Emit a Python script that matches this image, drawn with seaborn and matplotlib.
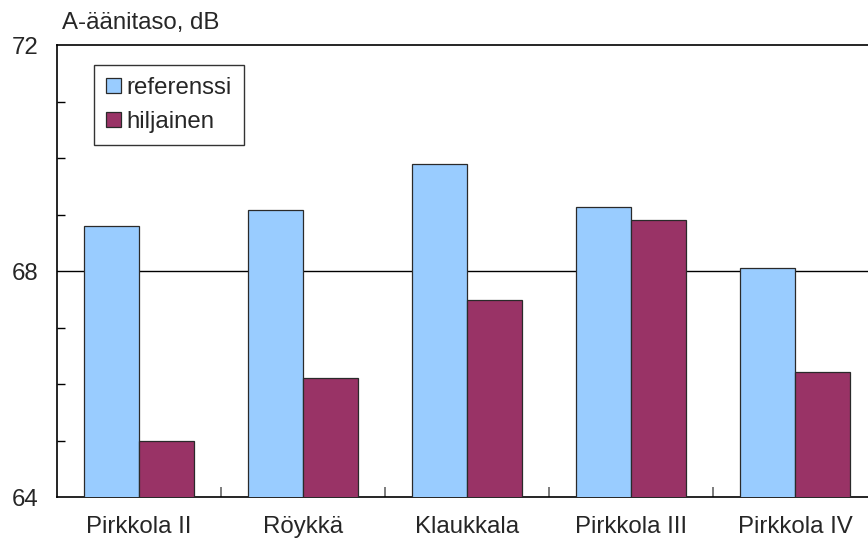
import matplotlib
matplotlib.use("Agg")
import matplotlib.pyplot as plt
from matplotlib.ticker import MultipleLocator
import seaborn as sns
import pandas as pd

sites = ["Pirkkola II", "Röykkä", "Klaukkala", "Pirkkola III", "Pirkkola IV"]
referenssi = [68.80, 69.08, 69.89, 69.13, 68.06]
hiljainen = [64.99, 66.11, 67.49, 68.90, 66.21]
series = ["referenssi", "hiljainen"]
colors = ["#99CCFF", "#993366"]
y_label = "A-äänitaso, dB"

df = pd.DataFrame({
    "paikka": sites * 2,
    "sarja": [series[0]] * len(sites) + [series[1]] * len(sites),
    "taso": referenssi + hiljainen,
})

sns.set_style("white")
plt.rcParams["font.family"] = ["Liberation Sans", "DejaVu Sans"]
plt.rcParams["ytick.direction"] = "in"
plt.rcParams["xtick.direction"] = "in"
FS = 17.3

fig = plt.figure(figsize=(8.68, 5.43), dpi=100)
ax = fig.add_axes([57 / 868, (543 - 497) / 543, 820 / 868, (497 - 45) / 543])

sns.barplot(data=df, x="paikka", y="taso", hue="sarja", palette=colors,
            saturation=1, width=0.67, gap=0, ax=ax, edgecolor="#2a2a2a",
            linewidth=0.9, errorbar=None, zorder=3)

ax.set_ylim(64, 72)
ax.set_xlim(-0.5, len(sites) - 0.5)
ax.yaxis.set_major_locator(MultipleLocator(4))
ax.yaxis.set_minor_locator(MultipleLocator(1))
ax.axhline(68, color="black", linewidth=1.0, zorder=1)

ax.tick_params(axis="y", which="major", left=False, labelsize=FS, pad=13.5)
ax.tick_params(axis="y", which="minor", left=True, direction="in", length=6,
               width=1, color="black")
# category boundaries drawn as short inward ticks
ax.set_xticks([i + 0.5 for i in range(len(sites) - 1)], minor=True)
ax.tick_params(axis="x", which="minor", bottom=True, direction="in", length=7,
               width=1.2, color="#666666")
ax.tick_params(axis="x", which="major", bottom=False, labelsize=FS, pad=14)

for side in ["left", "bottom", "top"]:
    ax.spines[side].set_visible(True)
    ax.spines[side].set_color("black")
    ax.spines[side].set_linewidth(1.2)
ax.spines["right"].set_visible(False)

ax.set_xlabel("")
ax.set_ylabel("")
fig.text(62 / 868, 1 - 23 / 543, y_label, fontsize=FS, va="center", ha="left")

leg = ax.legend(loc="upper left", bbox_to_anchor=((94 - 57) / 820, (497 - 65) / 452),
                fontsize=FS, frameon=True, fancybox=False, edgecolor="black",
                handlelength=0.62, handleheight=0.62, handletextpad=0.24,
                borderpad=0.5, labelspacing=0.5, borderaxespad=0)
leg.get_frame().set_linewidth(1.0)
leg.set_title(None)

fig.savefig("out.png", dpi=100)
